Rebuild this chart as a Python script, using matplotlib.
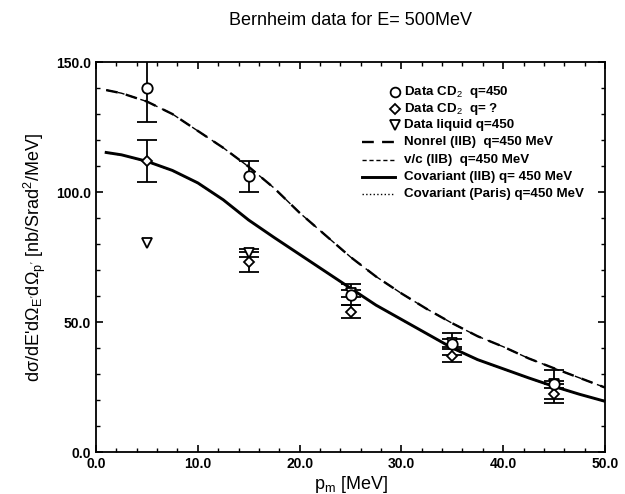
import matplotlib
matplotlib.use("Agg")
import matplotlib.pyplot as plt
from matplotlib.lines import Line2D

plt.rcParams['font.family'] = ['Liberation Sans', 'DejaVu Sans']
plt.rcParams['mathtext.fontset'] = 'custom'
plt.rcParams['mathtext.rm'] = 'Liberation Sans'
plt.rcParams['mathtext.it'] = 'Liberation Sans'
plt.rcParams['mathtext.bf'] = 'Liberation Sans:bold'

# ---- data ----
pm_data = [5, 15, 25, 35, 45]
cd2_q450 = [140.0, 106.0, 60.5, 41.5, 26.0]
cd2_q450_err = [13.0, 6.0, 4.0, 4.3, 5.5]
cd2_qunk = [112.0, 73.0, 54.0, 37.0, 22.5]
cd2_qunk_err = [8.0, 3.8, 2.5, 2.5, 3.5]
liquid = [80.5, 76.5, 61.0, 42.0, 26.0]
liquid_err = [0.0, 1.5, 1.5, 1.5, 1.5]

pm_curve = [1, 2.5, 5, 7.5, 10, 12.5, 15, 17.5, 20, 22.5, 25, 27.5, 30,
            32.5, 35, 37.5, 40, 42.5, 45, 47.5, 50]
nonrel = [139.2, 138.0, 134.8, 130.0, 123.5, 117.0, 109.7, 101.5, 92.0, 83.5,
          75.0, 67.5, 61.0, 55.0, 49.5, 44.5, 40.5, 36.0, 32.2, 28.5, 24.8]
vc = [139.2, 138.0, 134.8, 130.0, 123.5, 117.0, 109.7, 101.5, 92.0, 83.5,
      75.0, 67.5, 61.0, 55.0, 49.5, 44.5, 40.5, 36.0, 32.2, 28.5, 24.8]
covariant = [115.2, 114.3, 111.8, 108.3, 103.5, 97.0, 89.2, 82.5, 76.0, 69.5,
             63.0, 56.5, 51.0, 45.5, 40.0, 35.5, 32.0, 28.5, 25.2, 22.2, 19.5]
paris = [115.1, 114.2, 111.7, 108.2, 103.4, 96.9, 89.1, 82.4, 75.9, 69.4,
         62.9, 56.4, 50.9, 45.4, 39.9, 35.4, 31.9, 28.4, 25.1, 22.1, 19.4]

legend_labels = [r"Data CD$_2$  q=450", r"Data CD$_2$  q= ?", "Data liquid q=450",
                 "Nonrel (IIB)  q=450 MeV", "v/c (IIB)  q=450 MeV",
                 "Covariant (IIB) q= 450 MeV", "Covariant (Paris) q=450 MeV"]
xticks = [0, 10, 20, 30, 40, 50]
xticklabels = ["0.0", "10.0", "20.0", "30.0", "40.0", "50.0"]
yticks = [0, 50, 100, 150]
yticklabels = ["0.0", "50.0", "100.0", "150.0"]

fig = plt.figure(figsize=(6.25, 4.94), dpi=100)
ax = fig.add_axes([96/625, 1-452/494, 509/625, 390/494])

dash_long = (0, (5, 3.5))
ax.plot(pm_curve, vc, color='black', lw=1.0, ls=dash_long)
ax.plot(pm_curve, nonrel, color='black', lw=1.7, ls=dash_long)
ax.plot(pm_curve, paris, color='black', lw=1.0, ls=':')
ax.plot(pm_curve, covariant, color='black', lw=2.1, ls='-')

eb_kw = dict(color='black', ecolor='black', elinewidth=1.3, capsize=7,
             capthick=1.3, ls='none', mfc='white', mec='black', mew=1.3)
ax.errorbar(pm_data, liquid, yerr=liquid_err, marker='v', ms=7,
            errorevery=(1, 1), **eb_kw)
ax.errorbar(pm_data, cd2_qunk, yerr=cd2_qunk_err, marker='D', ms=5.5, **eb_kw)
ax.errorbar(pm_data, cd2_q450, yerr=cd2_q450_err, marker='o', ms=7.5, **eb_kw)

ax.set_xlim(0, 50)
ax.set_ylim(0, 150)
ax.set_xticks(xticks)
ax.set_xticklabels(xticklabels)
ax.set_yticks(yticks)
ax.set_yticklabels(yticklabels)
ax.set_xticks(range(0, 51, 2), minor=True)
ax.set_yticks(range(0, 151, 10), minor=True)
ax.tick_params(which='both', direction='in', top=True, right=True, labelsize=10)
ax.tick_params(which='major', length=5, width=1.2)
ax.tick_params(which='minor', length=3, width=1.0)
for lab in ax.get_xticklabels() + ax.get_yticklabels():
    lab.set_fontweight('bold')
for s in ax.spines.values():
    s.set_linewidth(1.3)

ax.set_xlabel(r"p$_\mathrm{m}$ [MeV]", fontsize=13, labelpad=2)
ax.set_ylabel(r"d$\sigma$/dE'd$\Omega_{E'}$d$\Omega_{p'}$ [nb/Srad$^2$/MeV]",
              fontsize=13, labelpad=6)
fig.suptitle("Bernheim data for E= 500MeV", x=0.56, y=0.975, fontsize=13)

# manual legend
rows_y = [0.923, 0.879, 0.838, 0.795, 0.749, 0.705, 0.662]
mk_x = 0.587
text_x = 0.605
line_x = (0.523, 0.587)
mks = ['o', 'D', 'v']
mks_size = [7, 5, 7]
for i, (mk, ms) in enumerate(zip(mks, mks_size)):
    ax.add_line(Line2D([mk_x], [rows_y[i]], marker=mk, ms=ms, mfc='white',
                       mec='black', mew=1.3, transform=ax.transAxes))
line_styles = [(1.7, (0, (5, 3.5))), (1.0, (0, (3, 2))), (2.1, '-'), (1.0, ':')]
for j, (lw, ls) in enumerate(line_styles):
    ax.add_line(Line2D(line_x, [rows_y[3+j]]*2, color='black', lw=lw, ls=ls,
                       transform=ax.transAxes))
for i, lab in enumerate(legend_labels):
    ax.text(text_x, rows_y[i], lab, transform=ax.transAxes, fontsize=9.6,
            fontweight='bold', va='center', ha='left')

fig.savefig("out.png", dpi=100)
